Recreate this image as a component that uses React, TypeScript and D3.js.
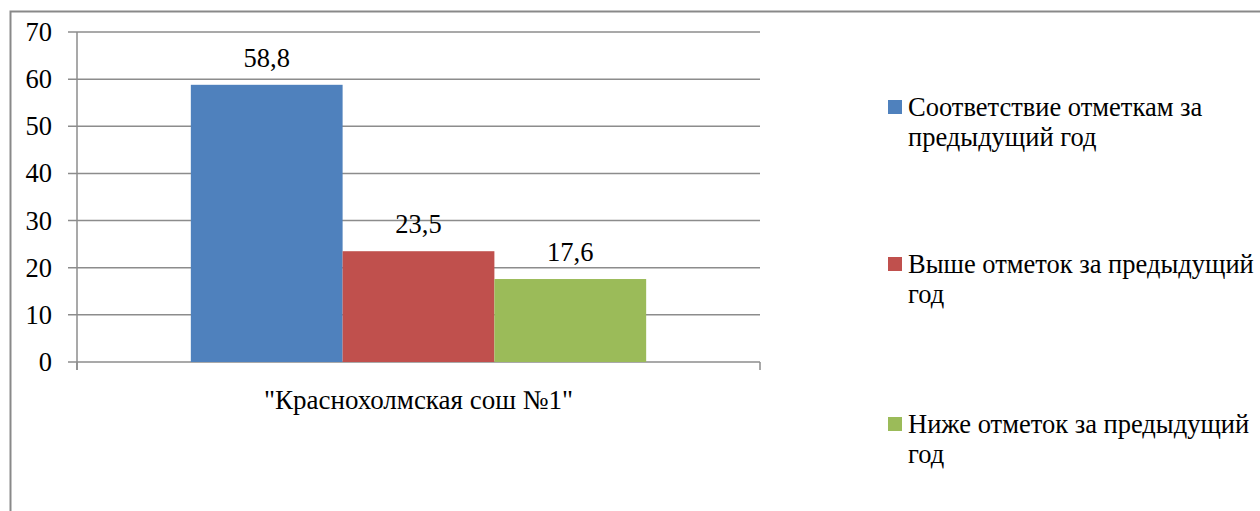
import React from "react";
import * as d3 from "d3";

const categories = ['"Краснохолмская сош №1"'];
const seriesNames = [
  ["Соответствие отметкам за", "предыдущий год"],
  ["Выше отметок за предыдущий", "год"],
  ["Ниже отметок за предыдущий", "год"],
];
const seriesValues = [58.8, 23.5, 17.6];
const valueLabels = ["58,8", "23,5", "17,6"];
const seriesColors = ["#4F81BD", "#C0504D", "#9BBB59"];
const yTicks = [0, 10, 20, 30, 40, 50, 60, 70];

const W = 1260;
const H = 511;
const FONT = "Liberation Serif";
const GRID = "#8c8c8c";

export default function App() {
  const left = 77, right = 760, top = 32, bottom = 362;
  const y = d3.scaleLinear().domain([0, 70]).range([bottom, top]);
  const x0 = d3.scaleBand().domain(categories).range([left, right]).paddingInner(0).paddingOuter(0);
  const groupW = x0.bandwidth() / 1.5;
  const x1 = d3
    .scaleBand()
    .domain(seriesValues.map((_, i) => String(i)))
    .range([0, groupW])
    .padding(0);
  const legendY = [116, 273, 433];
  const txt = { fontFamily: FONT, fontSize: 26.5 } as React.CSSProperties;
  const catTxt = { fontFamily: FONT, fontSize: 27 } as React.CSSProperties;

  return (
    <svg width={W} height={H} style={{ position: "absolute", left: 0, top: 0, background: "#fff" }}>
      <path d={`M10.5,${H} L10.5,11.5 L${W},11.5`} fill="none" stroke="#898989" strokeWidth={2} />
      {yTicks.map((t) => (
        <g key={t}>
          <line x1={68} x2={right} y1={y(t)} y2={y(t)} stroke={GRID} strokeWidth={1.5} />
          <text x={52} y={y(t) + 9} textAnchor="end" style={txt}>
            {t}
          </text>
        </g>
      ))}
      <line x1={left} x2={left} y1={top} y2={370} stroke={GRID} strokeWidth={1.5} />
      {[left, right].map((xx) => (
        <line key={xx} x1={xx} x2={xx} y1={bottom} y2={370} stroke={GRID} strokeWidth={1.5} />
      ))}
      {categories.map((c) => {
        const gx = (x0(c) ?? 0) + (x0.bandwidth() - groupW) / 2;
        return (
          <g key={c}>
            {seriesValues.map((v, i) => {
              const bx = gx + (x1(String(i)) ?? 0);
              return (
                <g key={i}>
                  <rect x={bx} y={y(v)} width={x1.bandwidth()} height={y(0) - y(v)} fill={seriesColors[i]} />
                  <text x={bx + x1.bandwidth() / 2} y={y(v) - 18} textAnchor="middle" style={txt}>
                    {valueLabels[i]}
                  </text>
                </g>
              );
            })}
            <text x={(x0(c) ?? 0) + x0.bandwidth() / 2} y={409} textAnchor="middle" style={catTxt}>
              {c}
            </text>
          </g>
        );
      })}
      {seriesNames.map((lines, i) => (
        <g key={i}>
          <rect x={888} y={legendY[i] - 16} width={14} height={14} fill={seriesColors[i]} />
          {lines.map((ln, j) => (
            <text key={j} x={908} y={legendY[i] + j * 30} style={txt}>
              {ln}
            </text>
          ))}
        </g>
      ))}
    </svg>
  );
}
